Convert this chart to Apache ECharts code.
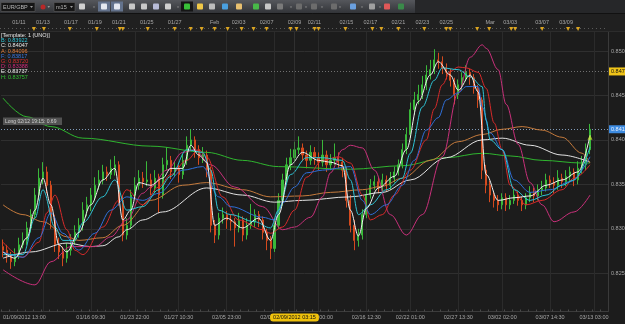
<!DOCTYPE html>
<html><head><meta charset="utf-8">
<script src="https://cdn.jsdelivr.net/npm/echarts@6/dist/echarts.min.js"></script>
<style>html,body{margin:0;padding:0;background:#1b1b1b;overflow:hidden}#c{width:625px;height:324px}</style>
</head><body><div id="c"></div>
<script>
// ---- data (prices in pips: 8276 = 0.8276) ----
const barCount = 152;
const firstOpen = 8280;
const closes = [
8276,8271,8263,8271,8282,8287,8301,8316,8338,8357,
8364,8349,8310,8282,8274,8267,8276,8287,8296,8304,
8321,8327,8338,8349,8355,8364,8361,8368,8372,8332,
8293,8304,8338,8349,8357,8353,8355,8346,8357,8338,
8372,8377,8364,8368,8361,8377,8394,8400,8389,8380,
8383,8366,8304,8293,8312,8316,8310,8308,8301,8310,
8293,8304,8308,8316,8310,8296,8287,8278,8304,8332,
8355,8372,8380,8389,8391,8383,8377,8386,8380,8375,
8383,8372,8377,8380,8375,8366,8332,8304,8287,8293,
8316,8338,8349,8353,8346,8355,8349,8357,8364,8372,
8389,8406,8434,8445,8451,8462,8473,8479,8490,8488,
8481,8476,8467,8451,8462,8470,8476,8470,8458,8445,
8366,8349,8338,8332,8327,8335,8327,8332,8338,8332,
8327,8335,8341,8337,8344,8346,8355,8352,8349,8357,
8353,8359,8364,8355,8368,8372,8389,8412];
const highs = [
8288,8282,8274,8278,8290,8296,8308,8322,8346,8368,
8375,8370,8354,8316,8290,8280,8284,8294,8304,8312,
8330,8336,8346,8358,8366,8372,8370,8378,8382,8376,
8338,8312,8344,8358,8366,8364,8376,8362,8366,8362,
8380,8392,8382,8376,8372,8384,8404,8412,8404,8394,
8392,8388,8370,8310,8318,8324,8320,8316,8312,8318,
8314,8312,8328,8322,8320,8314,8300,8292,8310,8340,
8362,8380,8390,8398,8404,8396,8388,8394,8392,8386,
8400,8388,8384,8396,8386,8380,8370,8338,8310,8300,
8322,8344,8356,8360,8358,8362,8360,8364,8370,8378,
8396,8414,8442,8454,8462,8472,8484,8490,8502,8498,
8494,8486,8480,8470,8468,8476,8484,8480,8474,8462,
8448,8372,8354,8342,8338,8340,8340,8338,8344,8342,
8336,8340,8348,8346,8350,8354,8362,8360,8358,8366,
8362,8366,8370,8368,8376,8382,8396,8418];
const lows = [
8268,8262,8255,8258,8266,8278,8282,8296,8312,8332,
8350,8340,8300,8274,8266,8258,8262,8270,8282,8290,
8298,8314,8320,8332,8344,8350,8354,8356,8360,8326,
8286,8288,8300,8334,8344,8346,8348,8338,8340,8318,
8334,8366,8356,8358,8352,8356,8372,8388,8380,8372,
8374,8358,8296,8284,8288,8306,8300,8298,8280,8296,
8286,8288,8300,8302,8302,8288,8276,8266,8274,8300,
8326,8350,8366,8376,8384,8376,8368,8372,8372,8366,
8370,8364,8366,8372,8368,8358,8324,8296,8276,8280,
8288,8312,8334,8344,8340,8342,8342,8344,8352,8360,
8368,8384,8402,8428,8440,8446,8456,8468,8474,8480,
8474,8468,8460,8440,8446,8456,8466,8462,8452,8436,
8356,8340,8330,8324,8320,8322,8320,8322,8328,8326,
8320,8322,8330,8330,8332,8338,8342,8346,8340,8344,
8346,8348,8354,8348,8350,8362,8366,8384];

// moving averages: [bar index, pips]
const maC = [[0,8274],[3,8267],[6,8290],[8,8321],[10,8357],[12,8327],[14,8282],[16,8274],[19,8296],[22,8327],[25,8355],[28,8368],[30,8310],[32,8321],[34,8352],[37,8349],[40,8357],[42,8368],[45,8368],[47,8394],[49,8383],[51,8375],[53,8304],[56,8312],[60,8301],[64,8312],[67,8287],[69,8316],[72,8372],[75,8386],[79,8377],[82,8375],[85,8371],[87,8321],[89,8292],[91,8323],[94,8346],[98,8359],[101,8389],[104,8443],[107,8473],[109,8488],[112,8473],[114,8456],[117,8473],[119,8454],[121,8361],[124,8332],[128,8335],[132,8337],[136,8349],[140,8355],[144,8364],[147,8405]];
const maB = [[0,8271],[5,8271],[8,8312],[10,8344],[13,8302],[15,8287],[18,8287],[20,8307],[25,8336],[28,8355],[31,8321],[35,8325],[39,8344],[42,8359],[46,8389],[50,8386],[52,8366],[54,8321],[57,8316],[63,8308],[67,8301],[69,8321],[72,8361],[76,8380],[80,8380],[85,8377],[87,8355],[89,8316],[92,8327],[96,8344],[100,8357],[102,8385],[105,8437],[108,8467],[110,8481],[114,8479],[117,8471],[120,8460],[121,8422],[122,8400],[125,8389],[128,8344],[132,8332],[136,8338],[140,8349],[143,8355],[147,8392]];
const maF = [[0,8274],[5,8268],[9,8290],[12,8318],[15,8295],[19,8276],[23,8295],[27,8321],[31,8336],[35,8332],[39,8340],[45,8366],[50,8370],[54,8336],[57,8325],[65,8313],[68,8310],[70,8329],[73,8347],[76,8363],[80,8366],[87,8370],[90,8332],[92,8316],[96,8327],[100,8349],[103,8377],[106,8411],[109,8425],[111,8445],[114,8453],[116,8460],[119,8460],[120,8437],[122,8408],[125,8389],[128,8355],[132,8341],[137,8344],[142,8353],[147,8381]];
const maG = [[0,8285],[5,8268],[9,8285],[11,8318],[13,8338],[16,8299],[18,8276],[20,8271],[25,8302],[29,8332],[31,8344],[35,8327],[39,8347],[42,8361],[46,8377],[49,8389],[51,8381],[55,8336],[59,8310],[65,8299],[67,8295],[70,8302],[73,8321],[76,8358],[80,8377],[84,8381],[87,8374],[90,8338],[92,8310],[95,8316],[98,8338],[102,8366],[106,8400],[108,8435],[110,8462],[112,8477],[114,8482],[116,8481],[119,8476],[121,8458],[123,8419],[125,8389],[127,8349],[131,8327],[135,8332],[140,8344],[143,8357],[147,8372]];
const maD = [[0,8254],[8,8237],[12,8263],[17,8280],[23,8280],[27,8291],[31,8310],[35,8340],[37,8347],[41,8366],[45,8386],[48,8389],[52,8372],[58,8347],[65,8325],[70,8299],[73,8302],[77,8313],[80,8336],[82,8363],[85,8389],[87,8394],[90,8391],[93,8366],[97,8316],[101,8293],[105,8316],[110,8381],[114,8453],[117,8493],[120,8507],[121,8503],[124,8479],[126,8440],[129,8395],[132,8352],[135,8327],[138,8308],[143,8319],[147,8338]];
const maA = [[0,8327],[5,8316],[10,8308],[16,8291],[19,8287],[25,8290],[30,8304],[37,8332],[45,8349],[51,8352],[60,8344],[67,8336],[75,8337],[82,8341],[90,8344],[95,8348],[100,8357],[107,8377],[114,8398],[120,8406],[125,8412],[130,8415],[135,8411],[140,8403],[145,8385],[147,8374]];
const maE = [[0,8267],[7,8274],[16,8284],[22,8280],[25,8281],[29,8291],[31,8299],[35,8310],[40,8319],[51,8346],[60,8338],[68,8330],[75,8332],[87,8336],[95,8341],[102,8355],[111,8380],[120,8400],[125,8402],[132,8394],[140,8383],[147,8375]];
const maH = [[0,8447],[6,8426],[12,8415],[20,8402],[37,8393],[51,8386],[60,8377],[69,8370],[87,8367],[100,8371],[111,8380],[120,8385],[127,8382],[135,8377],[145,8374],[147,8374]];

const priceLevels = [0.825, 0.830, 0.835, 0.840, 0.845, 0.850];
const orderLevel = 0.8477;
const lastPrice = 0.8412;
const signalPoint = [147, 0.8403];

const bottomLabelIdx = [0,22,33,44,56,68,79,91,102,114,125,137,148];
const bottomLabels = ['01/09/2012 13:00','01/16 09:30','01/23 22:00','01/27 10:30','02/05 23:00','02/07 11:30','02/13 00:00','02/16 12:30','02/22 01:00','02/27 13:30','03/02 02:00','03/07 14:30','03/13 03:00'];
const gridIdx = [10,22,33,44,56,68,79,91,102,114,125,137,148];
const topLabelIdx = [4,10,17,23,29,36,43,53,59,66,73,78,86,92,99,105,111,122,127,135,141];
const topLabels = ['01/11','01/13','01/17','01/19','01/21','01/25','01/27','Feb','02/03','02/07','02/09','02/11','02/15','02/17','02/21','02/23','02/25','Mar','03/03','03/07','03/09'];
const eventPos = [7.75,10.25,16.75,23.5,29.25,30,36.25,43,47,49.75,53,56.25,59.75,62.75,66,72,73.5,78,79,85.75,92.5,94.75,99,105.5,111,112,118.75,121.75,127.25,128.25,135,141.5,144];
const crossIdx = 73;
const crossLabel = '02/09/2012 03:15';
const legendTitle = '[Template: 1 (UNO)]';
const legendNames = ['B','C','A','F','G','D','E','H'];
const legendValues = ['0.83922','0.84047','0.84096','0.83817','0.83720','0.83388','0.83737','0.83757'];
const orderText = 'Long 02/12 19:15: 0.69';

// ---- build ----
const FONT = "'Liberation Sans', Arial, sans-serif";
const P = v => v / 10000;
const cats = Array.from({length: barCount}, (_, i) => i);
const ohlc = closes.map((c, i) => [P(i ? closes[i-1] : firstOpen), P(c), P(lows[i]), P(highs[i])]);
const bottomMap = {}; bottomLabelIdx.forEach((k, j) => bottomMap[k] = bottomLabels[j]);
const topMap = {}; topLabelIdx.forEach((k, j) => topMap[k] = topLabels[j]);

const maColors = {C:'#f0f0f0', B:'#2ec4d6', F:'#2f6fd8', G:'#d82a2a', D:'#c8307a', A:'#c47a3c', E:'#e2e2e2', H:'#2fb52f'};
const legendColors = {B:'#2ec4d6', C:'#e8e8e8', A:'#e07b39', F:'#3a78e0', G:'#e03030', D:'#d02a7a', E:'#e8e8e8', H:'#33c033'};

function maSeries(name, pts, z) {
  return {type:'line', name, data: pts.map(([i, p]) => [i, P(p)]), smooth: 0.35, smoothMonotone: 'x',
    showSymbol: false, silent: true, z, lineStyle: {width: 1, color: maColors[name]}, xAxisIndex: 0, yAxisIndex: 0};
}

const gridMarks = [];
priceLevels.forEach(v => gridMarks.push({yAxis: v, lineStyle: {color:'#2f2f2f', width:1, type:'solid'},
  label: {show:true, position:'end', formatter: v.toFixed(4), color:'#a8a8a8', fontSize:5.5, fontFamily: FONT, distance:3}}));
gridIdx.forEach(i => gridMarks.push({xAxis: i, lineStyle: {color:'#2b2b2b', width:1, type:'solid'}, label:{show:false}}));
gridMarks.push({yAxis: orderLevel, lineStyle: {color:'#707070', width:1, type:[1,2]},
  label: {show:true, position:'end', formatter: orderLevel.toFixed(4), color:'#111', backgroundColor:'#f0c419', padding:[1,2], fontSize:5.5, fontFamily: FONT, distance:1}});
gridMarks.push({yAxis: lastPrice, lineStyle: {color:'#7f9ab8', width:1, type:[1,2]},
  label: {show:true, position:'end', formatter: lastPrice.toFixed(4), color:'#eaf2ff', backgroundColor:'#3d8be0', padding:[1,2], fontSize:5.5, fontFamily: FONT, distance:1}});

const chart = echarts.init(document.getElementById('c'), null, {renderer:'canvas'});
chart.setOption({
  animation: false,
  backgroundColor: '#1c1c1c',
  textStyle: {fontFamily: FONT},
  grid: {left: 0, right: 17, top: 32, bottom: 12.5, containLabel: false},
  xAxis: [
    {type:'category', data: cats, boundaryGap: true, position:'bottom',
     axisLine: {show:true, lineStyle:{color:'#3c3c3c'}},
     axisTick: {show:true, interval: 1, inside: true, length: 2, lineStyle:{color:'#4a4a4a'}},
     axisLabel: {interval: (i) => bottomMap[i] !== undefined, formatter: (v, i) => bottomMap[i] || '',
       color:'#a6a6a6', fontSize:5.5, margin:3, alignMinLabel:'left'},
     splitLine: {show:false},
     axisPointer: {show:true, value: crossIdx, status:'show', type:'line', snap:false, triggerTooltip:false,
       lineStyle:{color:'#444', type:'dotted', width:1},
       label:{show:true, formatter: () => crossLabel, backgroundColor:'#f0c20c', color:'#111', fontSize:5.5, padding:[1,3], margin:2}}},
    {type:'category', data: cats, boundaryGap: true, position:'top',
     axisLine:{show:false}, axisTick:{show:false}, splitLine:{show:false},
     axisLabel:{interval: (i) => topMap[i] !== undefined, formatter: (v, i) => topMap[i] || '',
       color:'#a6a6a6', fontSize:5.5, margin:7}},
    {type:'value', min: -0.5, max: barCount - 0.5, show:false}
  ],
  yAxis: [{type:'value', min: 0.820704, max: 0.852137, show:false}],
  series: [
    {type:'candlestick', name:'EUR/GBP', data: ohlc, barWidth: 1.6, z: 2, silent:true,
     itemStyle: {color:'#3ab83a', color0:'#d44a1e', borderColor:'#3ab83a', borderColor0:'#d44a1e', borderWidth:1},
     markLine: {silent:true, z:1, symbol:['none','none'], animation:false, precision: 4, label:{show:false}, data: gridMarks}},
    maSeries('H', maH, 3), maSeries('E', maE, 3), maSeries('A', maA, 3), maSeries('D', maD, 3),
    maSeries('G', maG, 4), maSeries('F', maF, 4), maSeries('B', maB, 4), maSeries('C', maC, 5),
    {type:'scatter', data:[signalPoint], symbol:'triangle', symbolSize:5, z:6, silent:true,
     itemStyle:{color:'#b8e030'}}
  ]
});

// ---- decorations ----
const g = [];
g.push({type:'rect', shape:{x:0,y:0,width:625,height:14}, style:{fill:'#262729'}, z:90});
g.push({type:'rect', shape:{x:0,y:0,width:415,height:13},
  style:{fill: new echarts.graphic.LinearGradient(0,0,0,1,[{offset:0,color:'#55575c'},{offset:1,color:'#323438'}])}, z:91});
g.push({type:'line', shape:{x1:0,y1:13.5,x2:625,y2:13.5}, style:{stroke:'#111',lineWidth:1}, z:91});
g.push({type:'rect', shape:{x:0,y:14,width:625,height:18}, style:{fill:'#202020'}, z:-1});
g.push({type:'line', shape:{x1:0,y1:28.5,x2:608,y2:28.5}, style:{stroke:'#5a5a5a',lineWidth:1,lineDash:[1,3]}, z:-1});
g.push({type:'line', shape:{x1:0,y1:31.5,x2:625,y2:31.5}, style:{stroke:'#2c2c2c',lineWidth:1}, z:-1});
// dropdowns
g.push({type:'rect', shape:{x:1,y:2.5,width:34,height:9}, style:{fill:'#161616',stroke:'#5c5c5c',lineWidth:0.6}, z:92});
g.push({type:'text', style:{x:3,y:7,text:'EUR/GBP',fill:'#b8b8b8',fontSize:5.5,fontFamily:FONT,verticalAlign:'middle'}, z:93});
g.push({type:'polygon', shape:{points:[[30,6],[33,6],[31.5,8]]}, style:{fill:'#999'}, z:93});
g.push({type:'circle', shape:{cx:43,cy:7,r:2.5}, style:{fill:'#b82828'}, z:92});
g.push({type:'polygon', shape:{points:[[47.5,6],[50,6],[48.75,8]]}, style:{fill:'#999'}, z:93});
g.push({type:'rect', shape:{x:54,y:2.5,width:21,height:9}, style:{fill:'#161616',stroke:'#5c5c5c',lineWidth:0.6}, z:92});
g.push({type:'text', style:{x:56,y:7,text:'m15',fill:'#b8b8b8',fontSize:5.5,fontFamily:FONT,verticalAlign:'middle'}, z:93});
g.push({type:'polygon', shape:{points:[[70,6],[73,6],[71.5,8]]}, style:{fill:'#999'}, z:93});
const icons = [[82,'#d0d0d0'],[104,'#e4e8f0','#63728c'],[117,'#e4e8f0','#63728c'],[132,'#c8c8c8'],[144,'#c8c8c8'],[156,'#b8bcd8'],[168,'#d0d0d0'],
  [187,'#38c038','#151515'],[200,'#f0c848'],[212,'#bdbdbd'],[225,'#4aa0e0'],[239,'#e8c070'],[256,'#48b848'],[268,'#c8c8c8'],[280,'#7a7a7a'],
  [299,'#6c6c6c'],[314,'#6c6c6c'],[334,'#6c6c6c'],[353,'#6aa0e0'],[372,'#a0a0a0'],[387,'#e05858'],[401,'#3a8a4a']];
icons.forEach(([x, c, bg]) => {
  if (bg) g.push({type:'rect', shape:{x:x-6,y:1.5,width:12,height:10}, style:{fill:bg}, z:92});
  g.push({type:'rect', shape:{x:x-3,y:3.5,width:6,height:6,r:1}, style:{fill:c}, z:93});
});
[94,178,291,306,322,340,362,380].forEach(x => g.push({type:'polygon', shape:{points:[[x-1.2,6.5],[x+1.2,6.5],[x,8]]}, style:{fill:'#8a8a8a'}, z:93}));
// event markers on the time strip
eventPos.forEach(p => {
  const x = chart.convertToPixel({xAxisIndex: 2}, p);
  g.push({type:'polygon', shape:{points:[[x-2,27],[x+2,27],[x,31]]}, style:{fill:'#dba521'}, z:5});
});
// indicator legend
g.push({type:'text', style:{x:1,y:35,text:legendTitle,fill:'#e8e8e8',fontSize:5.5,fontFamily:FONT,verticalAlign:'middle'}, z:100});
legendNames.forEach((n, j) => g.push({type:'text', style:{x:1, y:40.7 + j*5.2, text: n + ': ' + legendValues[j],
  fill: legendColors[n], fontSize:5.5, fontFamily:FONT, verticalAlign:'middle'}, z:100}));
// order label
g.push({type:'rect', shape:{x:3,y:117.5,width:59,height:7.5}, style:{fill:'#5c5c5c',opacity:0.85}, z:100});
g.push({type:'text', style:{x:5,y:121.3,text:orderText,fill:'#cfcfcf',fontSize:5,fontFamily:FONT,verticalAlign:'middle'}, z:101});
// frame
g.push({type:'line', shape:{x1:608.5,y1:32,x2:608.5,y2:311.5}, style:{stroke:'#3a3a3a',lineWidth:1}, z:4});
chart.setOption({graphic: g});
</script>
</body></html>
